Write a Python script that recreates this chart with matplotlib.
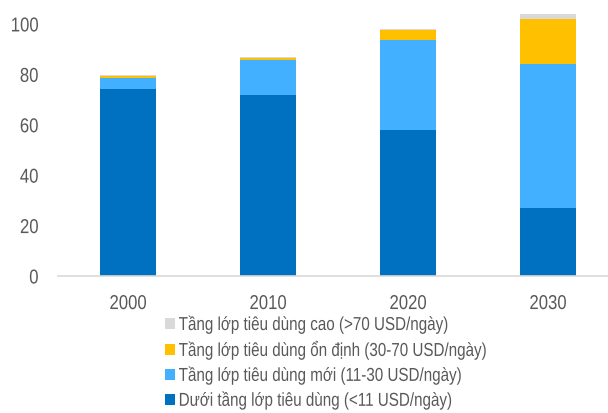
import matplotlib
matplotlib.use("Agg")
import matplotlib.pyplot as plt
import numpy as np
from matplotlib.patheffects import AbstractPathEffect
from matplotlib.transforms import Affine2D

plt.rcParams['font.family'] = ['Liberation Sans', 'DejaVu Sans']

# Tỷ lệ dân số theo tầng lớp (%)
years = ["2000", "2010", "2020", "2030"]
duoi_tieu_dung = [74, 72, 58, 27]
tieu_dung_moi = [4.5, 13.5, 35.5, 57]
tieu_dung_on_dinh = [1.0, 1.0, 4.0, 17.8]
tieu_dung_cao = [0.2, 0.3, 0.4, 2.3]

series_labels = [
    "Dưới tầng lớp tiêu dùng (<11 USD/ngày)",
    "Tầng lớp tiêu dùng mới (11-30 USD/ngày)",
    "Tầng lớp tiêu dùng ổn định (30-70 USD/ngày)",
    "Tầng lớp tiêu dùng cao (>70 USD/ngày)",
]
series_colors = ["#0070C0", "#42B0FF", "#FFC000", "#D9D9D9"]
text_color = "#595959"


class Narrow(AbstractPathEffect):
    """Ép chữ theo chiều ngang (giả lập font Narrow)."""

    def __init__(self, sx=0.82, align="left"):
        super().__init__()
        self.sx = sx
        self.align = align

    def draw_path(self, renderer, gc, tpath, affine, rgbFace=None):
        verts = affine.transform(tpath.vertices)
        if len(verts) == 0:
            return
        xmin, xmax = verts[:, 0].min(), verts[:, 0].max()
        x0 = {"left": xmin, "center": (xmin + xmax) / 2, "right": xmax}[self.align]
        squeeze = Affine2D().translate(-x0, 0).scale(self.sx, 1).translate(x0, 0)
        renderer.draw_path(gc, tpath, affine + squeeze, rgbFace)


W, H = 608, 413
fig = plt.figure(figsize=(W / 100, H / 100), dpi=100)
ax = fig.add_axes([58 / W, 1 - 276 / H, 560 / W, 276 / H])

x = np.arange(len(years))
bottom = np.zeros(len(years))
handles = []
for vals, label, color in zip([duoi_tieu_dung, tieu_dung_moi, tieu_dung_on_dinh, tieu_dung_cao],
                              series_labels, series_colors):
    b = ax.bar(x, vals, width=0.4, bottom=bottom, color=color, label=label, linewidth=0)
    handles.append(b)
    bottom += np.array(vals)

ax.set_xlim(-0.5, 3.5)
ax.set_ylim(0, 109.5)
ax.set_yticks(range(0, 101, 20))
ax.set_xticks(x)
ax.set_xticklabels(years)

for s in ["top", "right", "left"]:
    ax.spines[s].set_visible(False)
ax.spines["bottom"].set_color("#D9D9D9")
ax.spines["bottom"].set_linewidth(1.2)
ax.tick_params(axis="both", length=0, labelsize=14.5, labelcolor=text_color)
ax.tick_params(axis="y", pad=14)
ax.tick_params(axis="x", pad=13)

for lbl in ax.get_yticklabels():
    lbl.set_path_effects([Narrow(0.83, "right")])
for lbl in ax.get_xticklabels():
    lbl.set_path_effects([Narrow(0.83, "center")])

leg = fig.legend(handles[::-1], series_labels[::-1],
                 loc="upper left", bbox_to_anchor=(165 / W, 1 - 316 / H),
                 frameon=False, fontsize=13.5, labelcolor=text_color,
                 handlelength=0.51, handleheight=0.51, handletextpad=0.22,
                 labelspacing=0.37, borderpad=0, borderaxespad=0)
for t in leg.get_texts():
    t.set_path_effects([Narrow(0.81, "left")])

fig.savefig("out.png", dpi=100)
